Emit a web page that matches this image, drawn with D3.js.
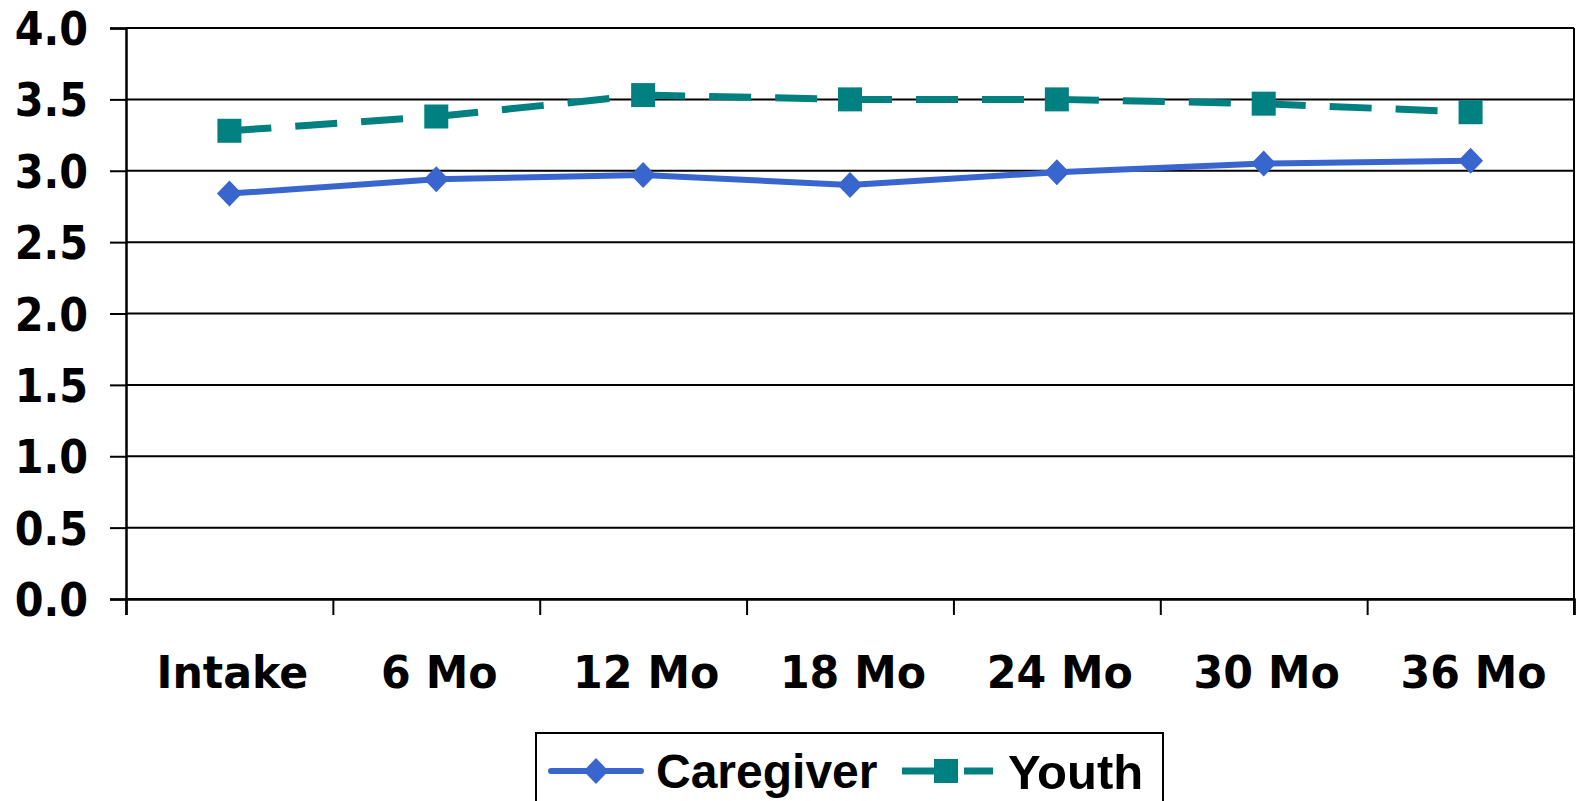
<!DOCTYPE html>
<html><head><meta charset="utf-8">
<script src="https://d3js.org/d3.v7.min.js"></script>
<style>
html,body{margin:0;padding:0;background:#fff;}
svg{display:block;}
</style></head>
<body>
<svg id="chart" width="1581" height="801"></svg>
<script>
const categories = ["Intake","6 Mo","12 Mo","18 Mo","24 Mo","30 Mo","36 Mo"];
const caregiver = [2.84, 2.94, 2.97, 2.90, 2.99, 3.05, 3.07];
const youth = [3.28, 3.38, 3.53, 3.50, 3.50, 3.47, 3.41];
const yTicks = [0,0.5,1.0,1.5,2.0,2.5,3.0,3.5,4.0];
const seriesNames = ["Caregiver","Youth"];

const svg = d3.select("#chart");
const L = 126, R = 1574, T = 28, B = 599;
const x = d3.scaleBand().domain(categories).range([L, R]).padding(0);
const xEdge = d3.scaleLinear().domain([0, categories.length]).range([L, R]);
const y = d3.scaleLinear().domain([0, 4]).range([B, T]);

// gridlines
svg.append("g").selectAll("line").data(yTicks).join("line")
  .attr("x1", L).attr("x2", R)
  .attr("y1", d => y(d)).attr("y2", d => y(d))
  .attr("stroke", "#000").attr("stroke-width", 2);
// right frame
svg.append("line").attr("x1", R).attr("x2", R).attr("y1", T).attr("y2", B + 16)
  .attr("stroke", "#000").attr("stroke-width", 2);

// y axis
const yAxis = svg.append("g").attr("transform", `translate(${L},0)`)
  .call(d3.axisLeft(y).tickValues(yTicks).tickFormat(d3.format(".1f")).tickSize(16).tickPadding(22));
yAxis.select(".domain").attr("stroke-width", 2.5);
yAxis.selectAll(".tick line").attr("stroke-width", 2);
yAxis.selectAll("text").attr("font-family", "DejaVu Sans").attr("font-weight", "bold")
  .attr("font-size", 46).attr("fill", "#000").attr("dy", "0.36em")
  .attr("x", 0).attr("transform", "translate(-38,0) scale(0.9,1)");

// x axis ticks at band edges
const xt = svg.append("g").attr("transform", `translate(0,${B})`)
  .call(d3.axisBottom(xEdge).tickValues(d3.range(categories.length + 1)).tickFormat("").tickSize(16));
xt.select(".domain").attr("stroke-width", 2.5);
xt.selectAll(".tick line").attr("stroke-width", 2);

// x labels
const xl = svg.append("g").attr("transform", `translate(0,${B})`)
  .call(d3.axisBottom(x).tickSize(0).tickPadding(0));
xl.select(".domain").remove();
xl.selectAll("text").attr("y", 0).attr("dy", "0.36em")
  .attr("transform", "translate(3,73) scale(0.95,1)")
  .attr("font-family", "DejaVu Sans").attr("font-weight", "bold")
  .attr("font-size", 45).attr("fill", "#000");

const cx = d => x(d) + x.bandwidth() / 2;
const blue = "#3965CF", teal = "#008080";

// youth line: dash pattern restarts at each segment
const lineY = d3.line().x(d => cx(d.c)).y(d => y(d.v));
const youthPts = youth.map((v, i) => ({c: categories[i], v}));
const segs = d3.pairs(youthPts);
svg.append("g").selectAll("path").data(segs).join("path")
  .attr("d", lineY)
  .attr("fill", "none").attr("stroke", teal).attr("stroke-width", 7)
  .attr("stroke-dasharray", "42,24");
svg.append("g").selectAll("rect").data(youthPts).join("rect")
  .attr("x", d => cx(d.c) - 12).attr("y", d => y(d.v) - 12)
  .attr("width", 24).attr("height", 24).attr("fill", teal);

// caregiver line
const carePts = caregiver.map((v, i) => ({c: categories[i], v}));
svg.append("path").datum(carePts).attr("d", lineY)
  .attr("fill", "none").attr("stroke", blue).attr("stroke-width", 6);
const diamond = "M0,-13L12.5,0L0,13L-12.5,0Z";
svg.append("g").selectAll("path").data(carePts).join("path")
  .attr("transform", d => `translate(${cx(d.c)},${y(d.v)})`)
  .attr("d", diamond).attr("fill", blue);

// legend
const lg = svg.append("g");
lg.append("rect").attr("x", 536).attr("y", 733).attr("width", 627).attr("height", 90)
  .attr("fill", "#fff").attr("stroke", "#000").attr("stroke-width", 2);
const ly = 771;
lg.append("line").attr("x1", 551).attr("x2", 641).attr("y1", ly).attr("y2", ly)
  .attr("stroke", blue).attr("stroke-width", 6).attr("stroke-linecap", "round");
lg.append("path").attr("transform", `translate(596,${ly})`).attr("d", diamond).attr("fill", blue);
lg.append("text").attr("x", 656).attr("y", ly).attr("dy", "0.36em").text(seriesNames[0])
  .attr("font-family", "Liberation Sans").attr("font-weight", "bold").attr("font-size", 48);
lg.append("line").attr("x1", 902).attr("x2", 935).attr("y1", ly).attr("y2", ly)
  .attr("stroke", teal).attr("stroke-width", 7);
lg.append("rect").attr("x", 934).attr("y", ly - 12).attr("width", 24).attr("height", 24).attr("fill", teal);
lg.append("line").attr("x1", 964).attr("x2", 993).attr("y1", ly).attr("y2", ly)
  .attr("stroke", teal).attr("stroke-width", 7);
lg.append("text").attr("x", 1008).attr("y", ly).attr("dy", "0.36em").text(seriesNames[1])
  .attr("font-family", "Liberation Sans").attr("font-weight", "bold").attr("font-size", 49);
</script>
</body></html>
